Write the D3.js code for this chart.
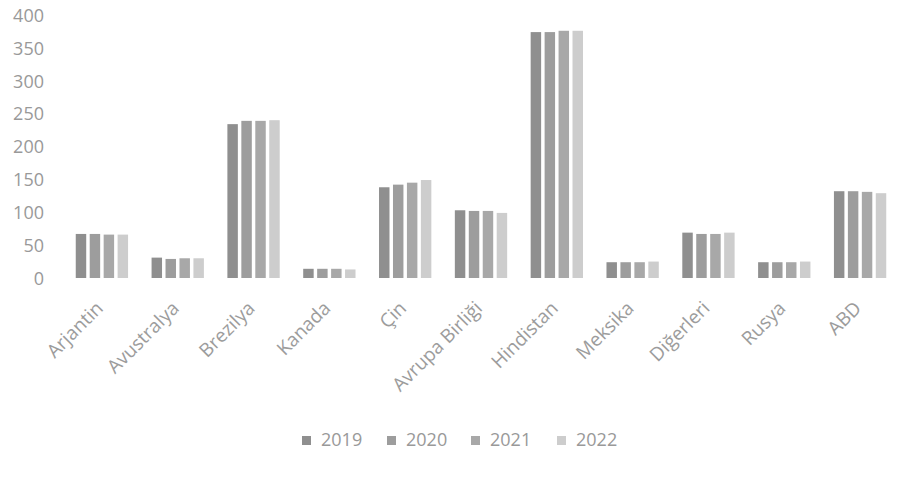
<!DOCTYPE html>
<meta charset="utf-8">
<title>Bar chart</title>
<style>
    body {
        margin: 0;
        background: #fff;
    }

    text {
        font-family: "Open Sans", sans-serif;
        fill: #999;
    }
</style>
<body>
<script src="https://cdnjs.cloudflare.com/ajax/libs/d3/7.8.5/d3.min.js"></script>
<script>
    var categories = ["Arjantin", "Avustralya", "Brezilya", "Kanada", "Çin", "Avrupa Birliği",
        "Hindistan", "Meksika", "Diğerleri", "Rusya", "ABD"];
    var years = ["2019", "2020", "2021", "2022"];
    var v2019 = [67, 31, 234, 14, 138, 103, 374, 24, 69, 24, 132];
    var v2020 = [67, 29, 239, 14, 142, 102, 374, 24, 67, 24, 132];
    var v2021 = [66, 30, 239, 14, 145, 102, 376, 24, 67, 24, 131];
    var v2022 = [66, 30, 240, 13, 149, 99, 376, 25, 69, 25, 129];
    var yTicks = [0, 50, 100, 150, 200, 250, 300, 350, 400];

    var series = [v2019, v2020, v2021, v2022];
    var colors = ["#8f8f8f", "#9d9d9d", "#a8a8a8", "#cdcdcd"];

    var W = 911, H = 480;
    // plot box (don't use "top", it clashes with window.top)
    var pl = 64, pr = 898, pt = 15, pb = 278;

    var svg = d3.select("body").append("svg")
        .attr("width", W)
        .attr("height", H);

    var x = d3.scaleBand().domain(categories).range([pl, pr]).paddingInner(0.31).paddingOuter(0.155);
    var xs = d3.scaleBand().domain(years).range([0, x.bandwidth()]).paddingInner(0.25);
    var y = d3.scaleLinear().domain([0, 400]).range([pb, pt]);

    // y axis labels only, no line
    var yAxis = svg.append("g")
        .attr("transform", "translate(" + (pl - 20) + ",0)")
        .call(d3.axisLeft(y).tickValues(yTicks).tickSize(0).tickPadding(0));
    yAxis.select(".domain").remove();
    yAxis.selectAll("text").style("font-size", "18px").style("fill", "#999")
        .style("font-family", "'Open Sans', sans-serif").attr("dy", "0.35em");

    var groups = svg.selectAll("g.cat")
        .data(categories)
        .enter()
        .append("g")
        .attr("class", "cat")
        .attr("transform", function (d) {
            return "translate(" + x(d) + ",0)";
        });

    groups.selectAll("rect")
        .data(function (d, i) {
            return years.map(function (yr, k) {
                return {year: yr, k: k, v: series[k][i]};
            });
        })
        .enter()
        .append("rect")
        .attr("x", function (d) {
            return xs(d.year);
        })
        .attr("y", function (d) {
            return y(d.v);
        })
        .attr("width", xs.bandwidth())
        .attr("height", function (d) {
            return y(0) - y(d.v);
        })
        .attr("fill", function (d) {
            return colors[d.k];
        });

    // rotated category labels
    var xAxis = svg.append("g")
        .attr("transform", "translate(0," + (pb + 22) + ")")
        .call(d3.axisBottom(x).tickSize(0).tickPadding(0));
    xAxis.select(".domain").remove();
    xAxis.selectAll("text")
        .style("font-size", "19px")
        .style("fill", "#9c9c9c")
        .style("font-family", "'Open Sans', sans-serif")
        .attr("text-anchor", "end")
        .attr("y", 0)
        .attr("dy", "0.7em")
        .attr("transform", "translate(-7,0) rotate(-45)");

    // legend
    var legend = svg.append("g").attr("transform", "translate(302,440)");
    var lx = [0, 85, 169, 255];
    years.forEach(function (yr, k) {
        var g = legend.append("g").attr("transform", "translate(" + lx[k] + ",0)");
        g.append("rect")
            .attr("x", 0)
            .attr("y", -4)
            .attr("width", 9)
            .attr("height", 9)
            .attr("fill", colors[k]);
        g.append("text")
            .attr("x", 19)
            .attr("y", 0)
            .attr("dy", "0.35em")
            .style("font-size", "18px")
            .text(yr);
    });
</script>
